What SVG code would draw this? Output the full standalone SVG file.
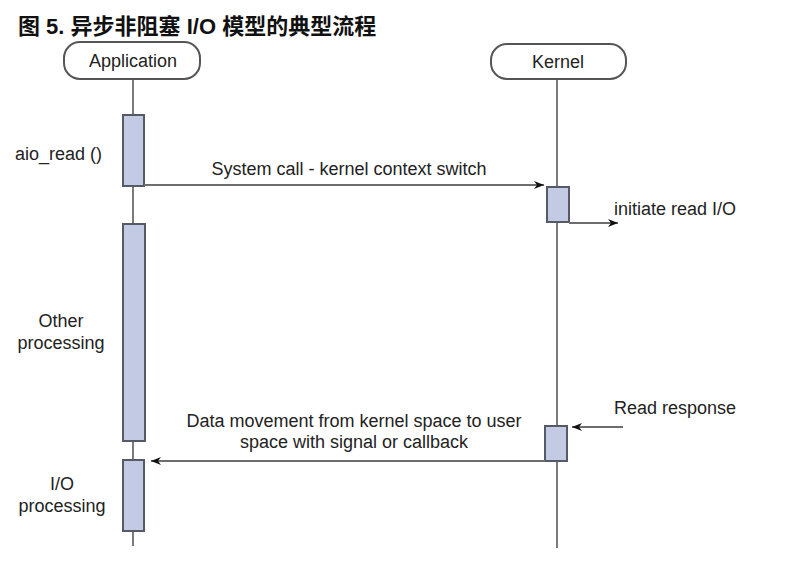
<svg xmlns="http://www.w3.org/2000/svg" width="787" height="562" viewBox="0 0 787 562">
<defs>
<style>
.t{font-family:"Liberation Sans",Arial,sans-serif;font-size:18px;fill:#222}
.hd{font-family:"Liberation Sans","Noto Sans CJK SC",sans-serif;font-size:22px;font-weight:bold;fill:#111}
.life{stroke:#7a7a7a;stroke-width:2;fill:none}
.head{fill:#fff;stroke:#555;stroke-width:2}
.act{fill:#c3cbe4;stroke:#555a66;stroke-width:2}
.msg{stroke:#6e6e6e;stroke-width:2;fill:none}
</style>
<marker id="arr" viewBox="0 0 10 10" refX="10" refY="5" markerWidth="14" markerHeight="10" markerUnits="userSpaceOnUse" orient="auto">
<path d="M0,1 L10,5 L0,9 L3,5 Z" fill="#111"/>
</marker>
</defs>
<rect width="787" height="562" fill="#fff"/>
<text class="hd" x="18" y="34">图 5. 异步非阻塞 I/O 模型的典型流程</text>

<g id="lifelines">
<line class="life" x1="133" y1="79" x2="133" y2="546"/>
<line class="life" x1="557" y1="79" x2="557" y2="548"/>
</g>

<g id="application">
<rect class="head" x="64" y="42" width="136" height="37" rx="16"/>
<text class="t" x="133" y="67" text-anchor="middle">Application</text>
</g>
<g id="kernel">
<rect class="head" x="491" y="44" width="135" height="35" rx="16"/>
<text class="t" x="558" y="68" text-anchor="middle">Kernel</text>
</g>

<g id="app-act-1"><rect class="act" x="123" y="115" width="21" height="71"/></g>
<g id="app-act-2"><rect class="act" x="123" y="224" width="22" height="217"/></g>
<g id="app-act-3"><rect class="act" x="123" y="460" width="21" height="71"/></g>
<g id="kernel-act-1"><rect class="act" x="547" y="187" width="22" height="35"/></g>
<g id="kernel-act-2"><rect class="act" x="545" y="426" width="22" height="35"/></g>

<g id="connectors">
<line class="msg" x1="144" y1="185" x2="544" y2="185" marker-end="url(#arr)"/>
<line class="msg" x1="569" y1="223" x2="618" y2="223" marker-end="url(#arr)"/>
<line class="msg" x1="623" y1="427" x2="572" y2="427" marker-end="url(#arr)"/>
<line class="msg" x1="545" y1="461" x2="151" y2="461" marker-end="url(#arr)"/>
</g>

<g id="labels">
<text class="t" x="349" y="175" text-anchor="middle">System call - kernel context switch</text>
<text class="t" x="614" y="215">initiate read I/O</text>
<text class="t" x="614" y="414">Read response</text>
<text class="t" x="354" y="427" text-anchor="middle">Data movement from kernel space to user</text>
<text class="t" x="354" y="448" text-anchor="middle">space with signal or callback</text>
<text class="t" x="15" y="160">aio_read ()</text>
<text class="t" x="61" y="327" text-anchor="middle">Other</text>
<text class="t" x="61" y="349" text-anchor="middle">processing</text>
<text class="t" x="62" y="490" text-anchor="middle">I/O</text>
<text class="t" x="62" y="512" text-anchor="middle">processing</text>
</g>
</svg>
